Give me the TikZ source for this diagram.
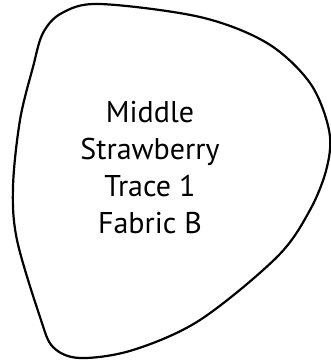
\documentclass[tikz,border=0pt]{standalone}
\usepackage{fontspec}
\setmainfont{PT Sans}
\begin{document}
\begin{tikzpicture}[x=1pt,y=-1pt,
  pick/.style={line width=2.2pt, line join=round},
  lbl/.style={align=center, font=\fontsize{30}{37}\selectfont, inner sep=0pt}]
\useasboundingbox (0,0) rectangle (331,362);
\draw[pick] plot[smooth cycle, tension=0.55] coordinates {
 (100,4) (200,17) (267,43) (310,83) (329,130) (327,167) (310,210) (277,257)
 (200,320) (133,350) (80,358) (53,347) (40,317) (17,240) (13,187) (20,120)
 (33,67) (43,33) (62,13)};
\node[lbl] (t) at (150,168) {Middle\\Strawberry\\Trace 1\\Fabric B};
\end{tikzpicture}
\end{document}
